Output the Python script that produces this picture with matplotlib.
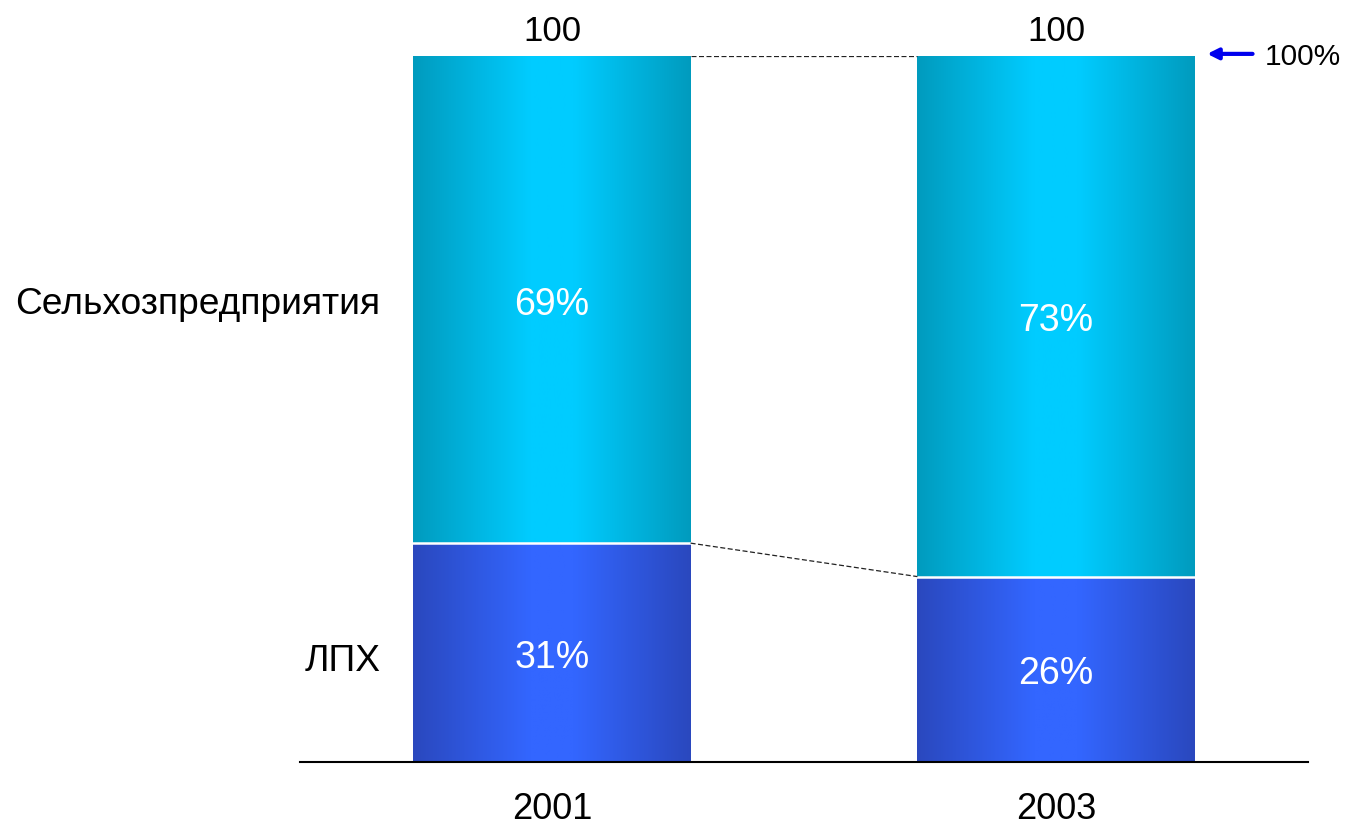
import numpy as np
import matplotlib
matplotlib.use("Agg")
import matplotlib.pyplot as plt
from matplotlib.colors import LinearSegmentedColormap
from matplotlib.transforms import offset_copy

years = ["2001", "2003"]
series_names = ["ЛПХ", "Сельхозпредприятия"]
lph = [31, 26]
selhoz = [69, 73]
totals = [100, 100]

plt.rcParams['font.family'] = ['Liberation Sans', 'DejaVu Sans']

fig = plt.figure(figsize=(13.45, 8.29), dpi=100)
W, H = 1345, 829
ax = fig.add_axes([300 / W, (829 - 763) / H, (1308 - 300) / W, (763 - 57) / H])
ax.set_xlim(-0.5, 1.5)
ax.set_ylim(0, 1)
ax.axis('off')
tdown = offset_copy(ax.transData, fig=fig, x=0, y=-4, units='dots')

cmap_top = LinearSegmentedColormap.from_list(
    "top", [(0, "#009BBE"), (0.42, "#00CCFF"), (0.58, "#00CCFF"), (1, "#009BBE")])
cmap_bot = LinearSegmentedColormap.from_list(
    "bot", [(0, "#2A48BE"), (0.42, "#3366FF"), (0.58, "#3366FF"), (1, "#2A48BE")])

width = 0.55
grad = np.linspace(0, 1, 256).reshape(1, -1)
x = np.arange(len(years))
bottoms_frac = []
for i in range(len(years)):
    tot = lph[i] + selhoz[i]
    b = lph[i] / tot
    bottoms_frac.append(b)
    segs = [(0, b, cmap_bot, lph[i]), (b, 1.0, cmap_top, selhoz[i])]
    for y0, y1, cm, val in segs:
        bar = ax.bar(x[i], y1 - y0, bottom=y0, width=width, color='none',
                     edgecolor='none')[0]
        im = ax.imshow(grad, cmap=cm, aspect='auto',
                       extent=(x[i] - width / 2, x[i] + width / 2, y0, y1),
                       zorder=1)
        im.set_clip_path(bar)
        ax.text(x[i], (y0 + y1) / 2, f"{val}%", ha='center', va='center',
                color='white', fontsize=27, zorder=3, transform=tdown)
    ax.plot([x[i] - width / 2, x[i] + width / 2], [b, b], color='white', lw=1.8, zorder=2)
    ax.text(x[i], 1.0 + 0.036, f"{totals[i]}", ha='center', va='center',
            fontsize=25, clip_on=False)
    ax.text(x[i], -0.063, years[i], ha='center', va='center', fontsize=26,
            clip_on=False, transform=offset_copy(ax.transData, fig=fig, x=0, y=-2, units='dots'))

ax.set_xlim(-0.5, 1.5)
ax.set_ylim(0, 1)

# connector dashed lines
ax.plot([x[0] + width / 2, x[1] - width / 2], [1, 1], ls=(0, (4, 2)), color='#222222', lw=0.9)
ax.plot([x[0] + width / 2, x[1] - width / 2], [bottoms_frac[0], bottoms_frac[1]],
        ls=(0, (4, 2)), color='#222222', lw=0.9)

# baseline
ax.plot([-0.5, 1.5], [0, 0], color='black', lw=1.5, clip_on=False)

# series labels on the left
ax.text(-0.341, (bottoms_frac[0] + 1) / 2, series_names[1], ha='right', va='center',
        fontsize=26.7, clip_on=False, transform=tdown)
ax.text(-0.341, bottoms_frac[0] / 2, series_names[0], ha='right', va='center',
        fontsize=26.7, clip_on=False,
        transform=offset_copy(ax.transData, fig=fig, x=0, y=-8, units='dots'))

# 100% arrow
ax.annotate("", xy=(1.30, 1.003), xytext=(1.39, 1.003),
            arrowprops=dict(arrowstyle='-|>', color='#0000EE', lw=3,
                            mutation_scale=16, shrinkA=0, shrinkB=0),
            annotation_clip=False)
ax.text(1.415, 1.0, "100%", ha='left', va='center', fontsize=21.5, clip_on=False)

fig.savefig("out.png", dpi=100)
